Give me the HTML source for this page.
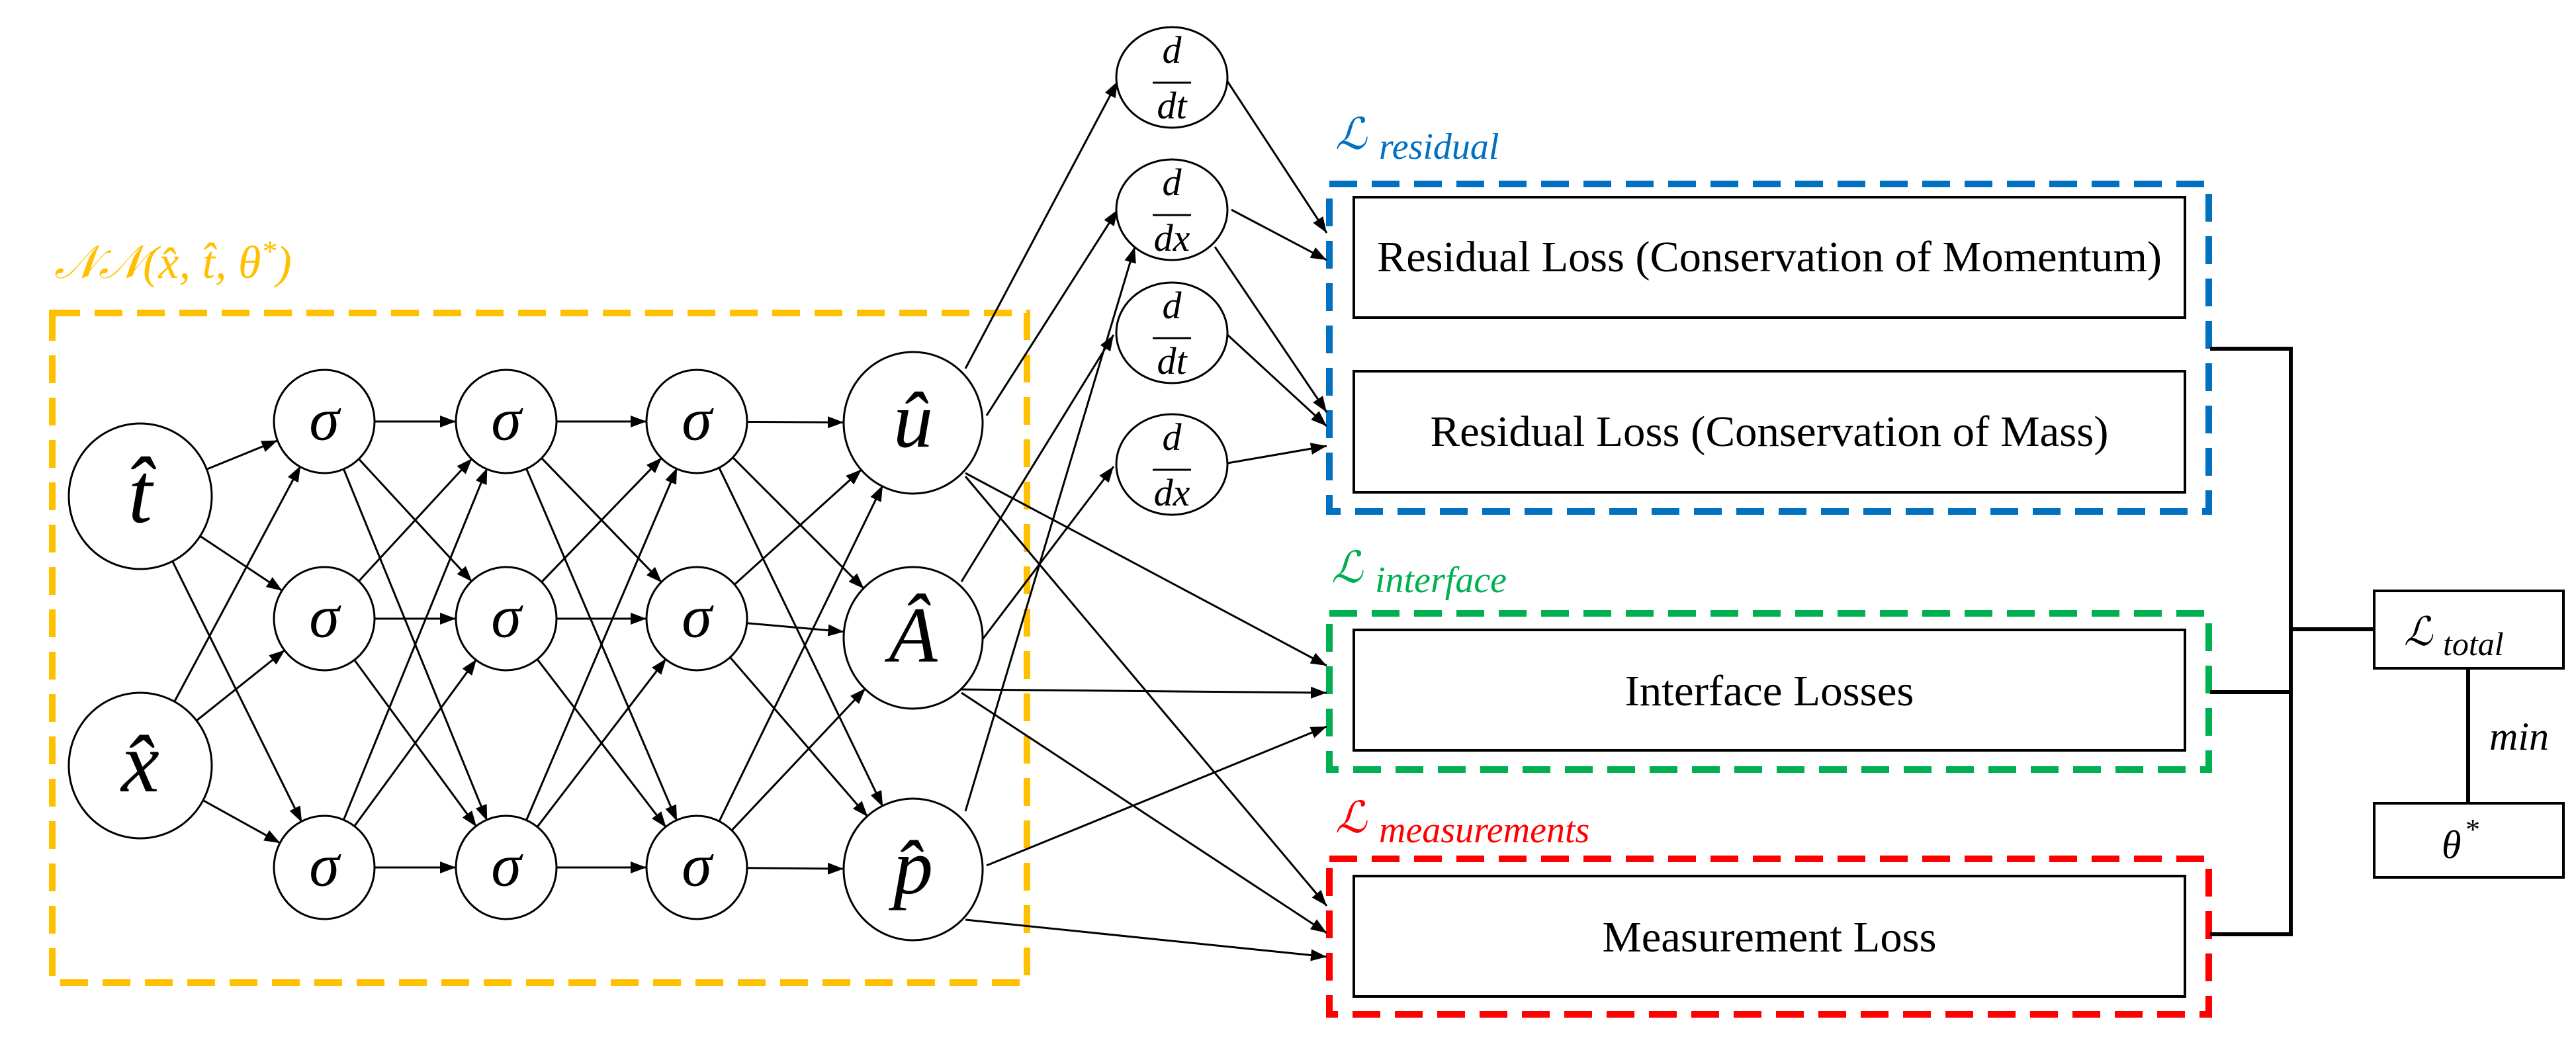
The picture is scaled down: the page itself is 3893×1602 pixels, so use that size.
<!DOCTYPE html>
<html><head><meta charset="utf-8"><style>
html,body{margin:0;padding:0;background:#fff;}
svg{display:block;}
.m{font-family:"Liberation Serif",serif;font-style:italic;}
.b{font-family:"Liberation Serif",serif;font-size:66px;}
</style></head><body>
<svg id="s" width="3893" height="1602" viewBox="0 0 3893 1602" xmlns="http://www.w3.org/2000/svg">
<defs>
<marker id="a" markerWidth="24" markerHeight="18" refX="24" refY="9" orient="auto" markerUnits="userSpaceOnUse"><path d="M0,0 L24,9 L0,18 z" fill="#000"/></marker></defs>
<rect x="79" y="473" width="1473" height="1012" fill="none" stroke="#FFC000" stroke-width="10" stroke-dasharray="42,22"/>
<rect x="2009" y="278" width="1329" height="495" fill="none" stroke="#0070C0" stroke-width="10" stroke-dasharray="42,22"/>
<rect x="2009" y="927" width="1329" height="236" fill="none" stroke="#00B050" stroke-width="10" stroke-dasharray="42,22"/>
<rect x="2009" y="1298" width="1329" height="235" fill="none" stroke="#FF0000" stroke-width="10" stroke-dasharray="42,22"/>
<text x="82" y="420" class="m" font-size="70" fill="#FFC000">𝒩𝒩(x̂, t̂, θ<tspan dy="-25" font-size="46">*</tspan><tspan dy="25">)</tspan></text>
<text x="2018" y="225" class="m" font-size="66" fill="#0070C0">ℒ</text><text x="2084" y="240" class="m" font-size="56" fill="#0070C0">residual</text>
<text x="2012" y="880" class="m" font-size="66" fill="#00B050">ℒ</text><text x="2078" y="895" class="m" font-size="56" fill="#00B050">interface</text>
<text x="2018" y="1258" class="m" font-size="66" fill="#FF0000">ℒ</text><text x="2084" y="1273" class="m" font-size="56" fill="#FF0000">measurements</text>
<rect x="2046" y="298" width="1256" height="182" fill="#fff" stroke="#000" stroke-width="4"/>
<text x="2674" y="410" class="b" text-anchor="middle" textLength="1186" lengthAdjust="spacingAndGlyphs">Residual Loss (Conservation of Momentum)</text>
<rect x="2046" y="561" width="1256" height="183" fill="#fff" stroke="#000" stroke-width="4"/>
<text x="2674" y="674" class="b" text-anchor="middle" textLength="1025" lengthAdjust="spacingAndGlyphs">Residual Loss (Conservation of Mass)</text>
<rect x="2046" y="952" width="1256" height="182" fill="#fff" stroke="#000" stroke-width="4"/>
<text x="2674" y="1066" class="b" text-anchor="middle" textLength="437" lengthAdjust="spacingAndGlyphs">Interface Losses</text>
<rect x="2046" y="1324" width="1256" height="182" fill="#fff" stroke="#000" stroke-width="4"/>
<text x="2674" y="1438" class="b" text-anchor="middle" textLength="505" lengthAdjust="spacingAndGlyphs">Measurement Loss</text>
<g stroke="#000" stroke-width="6" fill="none">
<polyline points="3340,527 3462,527 3462,1412 3340,1412"/>
<line x1="3340" y1="1046" x2="3462" y2="1046"/>
<line x1="3462" y1="951" x2="3588" y2="951"/>
<line x1="3730" y1="1010" x2="3730" y2="1214"/>
</g>
<rect x="3588" y="893" width="286" height="117" fill="#fff" stroke="#000" stroke-width="4"/>
<text x="3633" y="975" class="m" font-size="60">ℒ</text><text x="3692" y="990" class="m" font-size="50">total</text>
<rect x="3588" y="1214" width="286" height="112" fill="#fff" stroke="#000" stroke-width="4"/>
<text x="3690" y="1297" class="m" font-size="60">θ</text><text x="3724" y="1268" class="m" font-size="44">*</text>
<text x="3762" y="1133" class="m" font-size="60">min</text>
<g id="edges" stroke="#000" stroke-width="3" fill="none"></g>
<g id="nodes"></g>
</svg>
<script>
var NS="http://www.w3.org/2000/svg";
var E=document.getElementById("edges"),N=document.getElementById("nodes");
function el(p,t,a,txt){var e=document.createElementNS(NS,t);for(var k in a)e.setAttribute(k,a[k]);if(txt!==undefined)e.textContent=txt;p.appendChild(e);return e;}
function line(x1,y1,x2,y2){el(E,"line",{x1:x1,y1:y1,x2:x2,y2:y2,"marker-end":"url(#a)"});}
function cc(a,b){var dx=b[0]-a[0],dy=b[1]-a[1],d=Math.sqrt(dx*dx+dy*dy);
 line(a[0]+dx/d*a[2],a[1]+dy/d*a[2],b[0]-dx/d*b[2],b[1]-dy/d*b[2]);}
var rows=[637,935,1311];
var L0=[[212,750,108],[212,1157,108]];
var L1=rows.map(function(y){return[490,y,76]});
var L2=rows.map(function(y){return[765,y,76]});
var L3=rows.map(function(y){return[1053,y,76]});
var O=[[1380,639,105],[1380,964,105],[1380,1314,105]];
[[L0,L1],[L1,L2],[L2,L3],[L3,O]].forEach(function(p){p[0].forEach(function(a){p[1].forEach(function(b){cc(a,b);});});});
var S=[[1459,557,1689,123],[1491,628,1689,317],[1453,879,1683,506],[1485,966,1683,705],[1459,1226,1715,373],
[1855,123,2005,352],[1861,317,2005,393],[1836,373,2005,623],[1855,506,2005,644],[1855,700,2005,674],
[1459,715,2005,1006],[1459,720,2005,1369],[1453,1042,2005,1047],[1453,1047,2005,1410],[1491,1308,2005,1098],[1459,1390,2005,1446]];
S.forEach(function(s){line(s[0],s[1],s[2],s[3]);});
function circ(c,label,fs){el(N,"ellipse",{cx:c[0],cy:c[1],rx:c[2],ry:c[2]+2,fill:"#fff",stroke:"#000","stroke-width":3});
 el(N,"text",{x:c[0],y:c[1]+fs*0.3,"text-anchor":"middle","class":"m","font-size":fs},label);}
circ(L0[0],"t̂",130);circ(L0[1],"x̂",130);
L1.concat(L2,L3).forEach(function(c){circ(c,"σ",92);});
circ(O[0],"û",120);circ(O[1],"Â",120);circ(O[2],"p̂",120);
[[117,"dt"],[317,"dx"],[503,"dt"],[702,"dx"]].forEach(function(d){
 el(N,"ellipse",{cx:1771,cy:d[0],rx:84,ry:76,fill:"#fff",stroke:"#000","stroke-width":3});
 el(N,"text",{x:1771,y:d[0]-22,"text-anchor":"middle","class":"m","font-size":58},"d");
 el(N,"line",{x1:1742,y1:d[0]+8,x2:1800,y2:d[0]+8,stroke:"#000","stroke-width":3});
 el(N,"text",{x:1771,y:d[0]+62,"text-anchor":"middle","class":"m","font-size":58},d[1]);});
</script>
</body></html>
